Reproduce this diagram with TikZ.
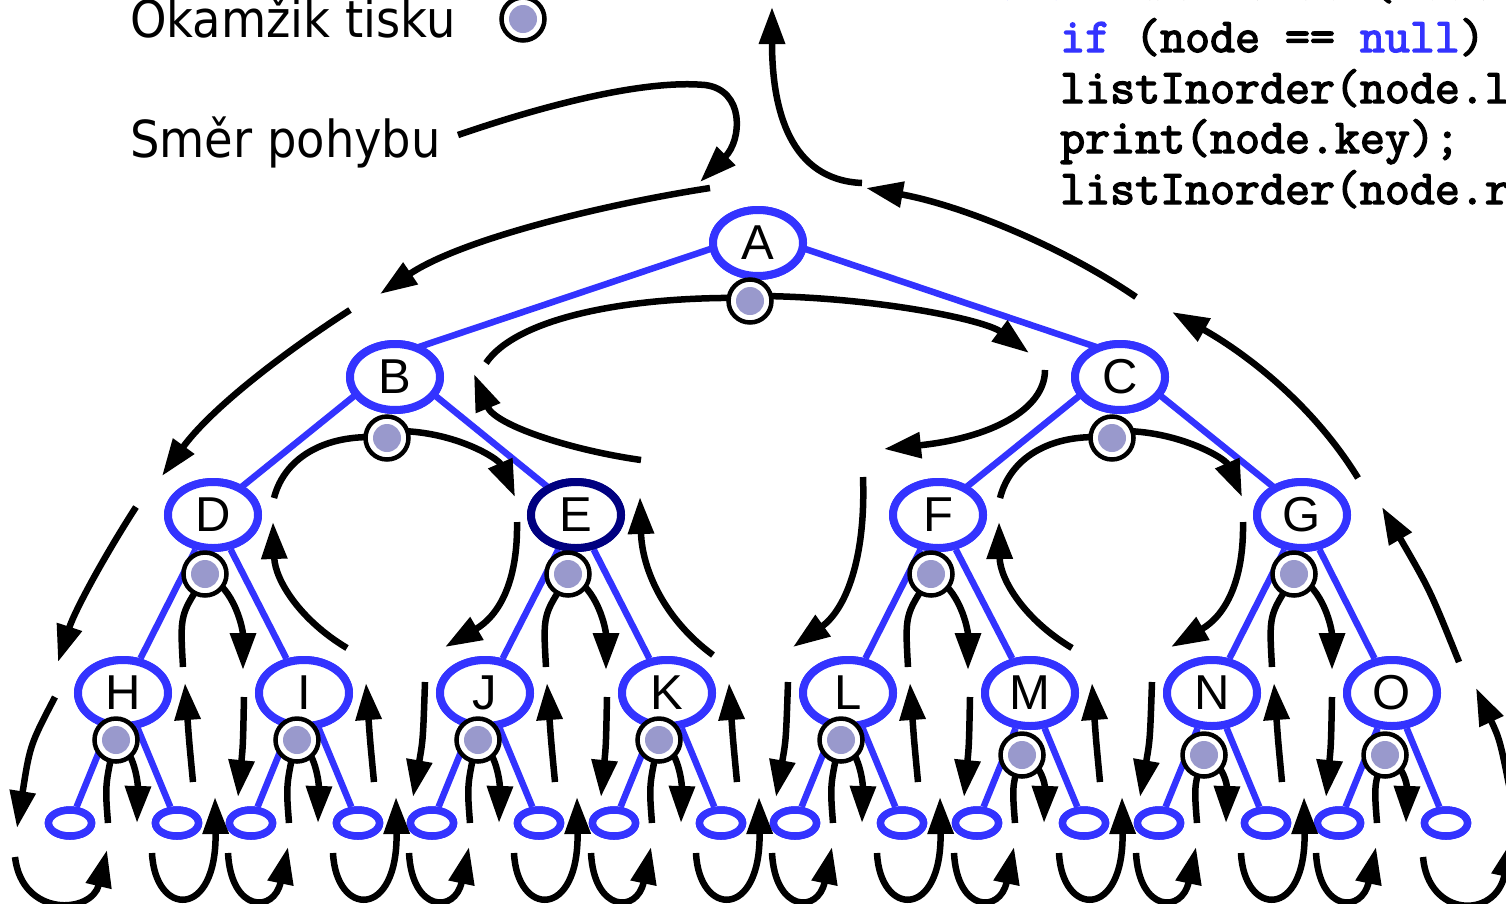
\documentclass[tikz,border=0pt]{standalone}
\usepackage{fontspec}
\usetikzlibrary{shapes.geometric,arrows.meta,calc}
\newfontfamily\labfont[FakeStretch=0.91]{DejaVu Sans}
\newfontfamily\treefont{Liberation Sans}
\newfontfamily\codefont[FakeBold=3]{Latin Modern Mono}
\definecolor{tblue}{HTML}{3333FF}
\definecolor{tnavy}{HTML}{000080}
\definecolor{dotc}{HTML}{9999CC}
\tikzset{
  tn/.style={ellipse, draw=tblue, line width=8pt, fill=white, minimum width=90pt, minimum height=66pt, inner sep=0pt, font=\treefont\fontsize{49}{49}\selectfont},
  leafn/.style={ellipse, draw=tblue, line width=7.5pt, fill=white, minimum width=43pt, minimum height=26pt, inner sep=0pt},
  tedge/.style={draw=tblue, line width=6.5pt},
  tour/.style={line width=6.5pt, -{Triangle[length=37pt,width=25pt]}},
  tourline/.style={line width=6.5pt},
  pdot/.style={circle, draw=black, fill=white, line width=4.5pt, minimum size=43pt, inner sep=0pt,
    path picture={\fill[dotc] (path picture bounding box.center) circle[radius=14pt];}},
  lab/.style={anchor=base west, inner sep=0pt, font=\labfont\fontsize{51}{60}\selectfont},
  code/.style={anchor=base west, inner sep=0pt, font=\codefont\fontsize{48.5}{52}\selectfont},
}
\begin{document}
\begin{tikzpicture}[x=1pt,y=-1pt]
\useasboundingbox (0,0) rectangle (1506,903);

% ---------- legend and code ----------
\node[lab] (okamzik) at (130,37) {Okamžik tisku};
\node[pdot] (legdot) at (523,19) {};
\node[lab] (smer) at (130,157) {Směr pohybu};
\coordinate (smerstart) at (458,135);
\node[code] (c0) at (970,-1) {\textcolor{tblue}{void} listInorder(Node node) \{};
\node[code] (c1) at (1060,52) {\textcolor{tblue}{if} (node == \textcolor{tblue}{null}) return;};
\node[code] (c2) at (1060,103) {listInorder(node.left);};
\node[code] (c3) at (1060,153) {print(node.key);};
\node[code] (c4) at (1060,204) {listInorder(node.right);};

% ---------- tree nodes (placed first so that edges can refer to them) ----------
\node[tn] (A) at (758,243) {A};
\node[tn] (B) at (395,377) {B};
\node[tn] (C) at (1120,377) {C};
\node[tn] (D) at (213,515) {D};
\node[tn, draw=tnavy] (E) at (576,515) {E};
\node[tn] (F) at (938,515) {F};
\node[tn] (G) at (1302,515) {G};
\foreach \n/\x in {H/123,I/304,J/485,K/667,L/848,M/1030,N/1212,O/1392} {
  \node[tn] (\n) at (\x,693) {\n};
  \node[leafn] (\n l) at ({\x-53},823) {};
  \node[leafn] (\n r) at ({\x+54},823) {};
}
% edges
\foreach \c in {B,C}
  \draw[tedge] ($(A)+(0,-10)$) -- ($(\c)+(0,-22)$);
\foreach \p/\c in {B/D,B/E,C/F,C/G}
  \draw[tedge] ($(\p)+(0,-14)$) -- ($(\c)+(0,-5)$);
\foreach \p/\c in {D/H,D/I,E/J,E/K,F/L,F/M,G/N,G/O}
  \draw[tedge] (\p) -- (\c);
\foreach \n in {H,I,J,K,L,M,N,O} {
  \draw[tedge] (\n) -- (\n l);
  \draw[tedge] (\n) -- (\n r);
}
% nodes drawn again over the edges
\node[tn] at (A) {A};
\node[tn] at (B) {B};
\node[tn] at (C) {C};
\node[tn] at (D) {D};
\node[tn, draw=tnavy] at (E) {E};
\node[tn] at (F) {F};
\node[tn] at (G) {G};
\foreach \n in {H,I,J,K,L,M,N,O} {
  \node[tn] at (\n) {\n};
  \node[leafn] at (\n l) {};
  \node[leafn] at (\n r) {};
}

% ---------- tour arrows: lowest level ----------
\foreach \X/\dy in {123/740,304/740,485/740,667/740,848/740,1030/755,1212/755,1392/755} {
  \draw[tourline] ({\X-15},823) .. controls ({\X-18},785) .. ({\X-8},\dy);
  \draw[tour] ({\X-7},\dy) .. controls ({\X+12},{\dy+10}) and ({\X+15},785) .. ({\X+14},823);
}
\foreach \X in {304,485,667,848,1030,1212,1392}
  \draw[tour] ({\X-76},853) .. controls ({\X-73},912) and ({\X-30},914) .. ({\X-16},847);
\draw[tour] (15,857) .. controls (22,918) and (92,914) .. (107,850);
\foreach \X in {123,304,485,667,848,1030,1212} {
  \draw[tour] ({\X+29},853) .. controls ({\X+32},917) and ({\X+94},920) .. ({\X+92},797);
  \draw[tour] ({\X+70},782) .. controls ({\X+66},740) .. ({\X+62},683);
}
\draw[tour] (1423,857) .. controls (1428,917) and (1495,920) .. (1512,840);
\draw[tour] (1512,800) .. controls (1500,740) .. (1476,688);
% descents into level-3 nodes
\foreach \X in {485,848,1212}
  \draw[tour] ({\X-60},682) .. controls ({\X-62},740) .. ({\X-72},797);
\foreach \X in {304,667,1030,1392}
  \draw[tour] ({\X-60},697) .. controls ({\X-61},745) .. ({\X-66},797);
\draw[tour] (55,697) .. controls (30,745) .. (17,828);

% ---------- level 2 ----------
\foreach \P in {213,576,938,1302} {
  \draw[tourline] ({\P-30},667) .. controls ({\P-33},615) .. ({\P-10},580);
  \draw[tour] ({\P-6},576) .. controls ({\P+22},588) and ({\P+30},630) .. ({\P+30},670);
}
\draw[tour] (517,522) .. controls (518,580) and (500,615) .. (445,647);
\draw[tour] (1243,522) .. controls (1244,580) and (1226,615) .. (1171,647);
\draw[tour] (136,507) .. controls (105,555) and (75,610) .. (58,662);
\draw[tour] (863,477) .. controls (866,560) and (845,610) .. (793,647);
\draw[tour] (347,648) .. controls (300,620) and (275,580) .. (273,522);
\draw[tour] (713,655) .. controls (665,620) and (642,570) .. (640,497);
\draw[tour] (1072,648) .. controls (1025,620) and (1000,580) .. (999,522);
\draw[tour] (1459,662) .. controls (1430,590) .. (1382,507);

% ---------- level 1 ----------
\draw[tourline] (274,498) .. controls (285,455) and (330,432) .. (387,438);
\draw[tourline] (1000,498) .. controls (1011,455) and (1055,432) .. (1112,438);
\draw[tour] (400,431) .. controls (455,432) and (498,458) .. (515,497);
\draw[tour] (1125,431) .. controls (1180,432) and (1225,458) .. (1242,497);
\draw[tour] (641,460) .. controls (570,450) and (495,425) .. (474,374);
\draw[tourline] (486,363) .. controls (515,320) and (620,296) .. (750,298);
\draw[tour] (765,296) .. controls (880,298) and (985,320) .. (1029,353);
\draw[tour] (1045,370) .. controls (1045,410) and (990,438) .. (884,449);
\draw[tour] (1358,478) .. controls (1310,400) and (1240,350) .. (1172,312);
\draw[tour] (1136,297) .. controls (1060,245) and (960,205) .. (866,188);
\draw[tour] (862,183) .. controls (790,180) and (772,110) .. (772,7);
\draw[tour] (710,188) .. controls (600,205) and (460,240) .. (380,294);
\draw[tour] (350,310) .. controls (280,355) and (210,410) .. (162,476);
\draw[tour] (smerstart) .. controls (560,100) and (650,80) .. (705,85) .. controls (745,90) and (742,140) .. (700,182);

% ---------- print dots ----------
\foreach \n/\x/\y in {A/750/301,B/387/438,C/1112/438,D/205/574,E/568/574,F/931/574,G/1294/574,
  H/116/740,I/297/740,J/478/740,K/659/740,L/841/740,M/1022/755,N/1204/755,O/1385/755}
  \node[pdot] (dot\n) at (\x,\y) {};
\end{tikzpicture}
\end{document}
